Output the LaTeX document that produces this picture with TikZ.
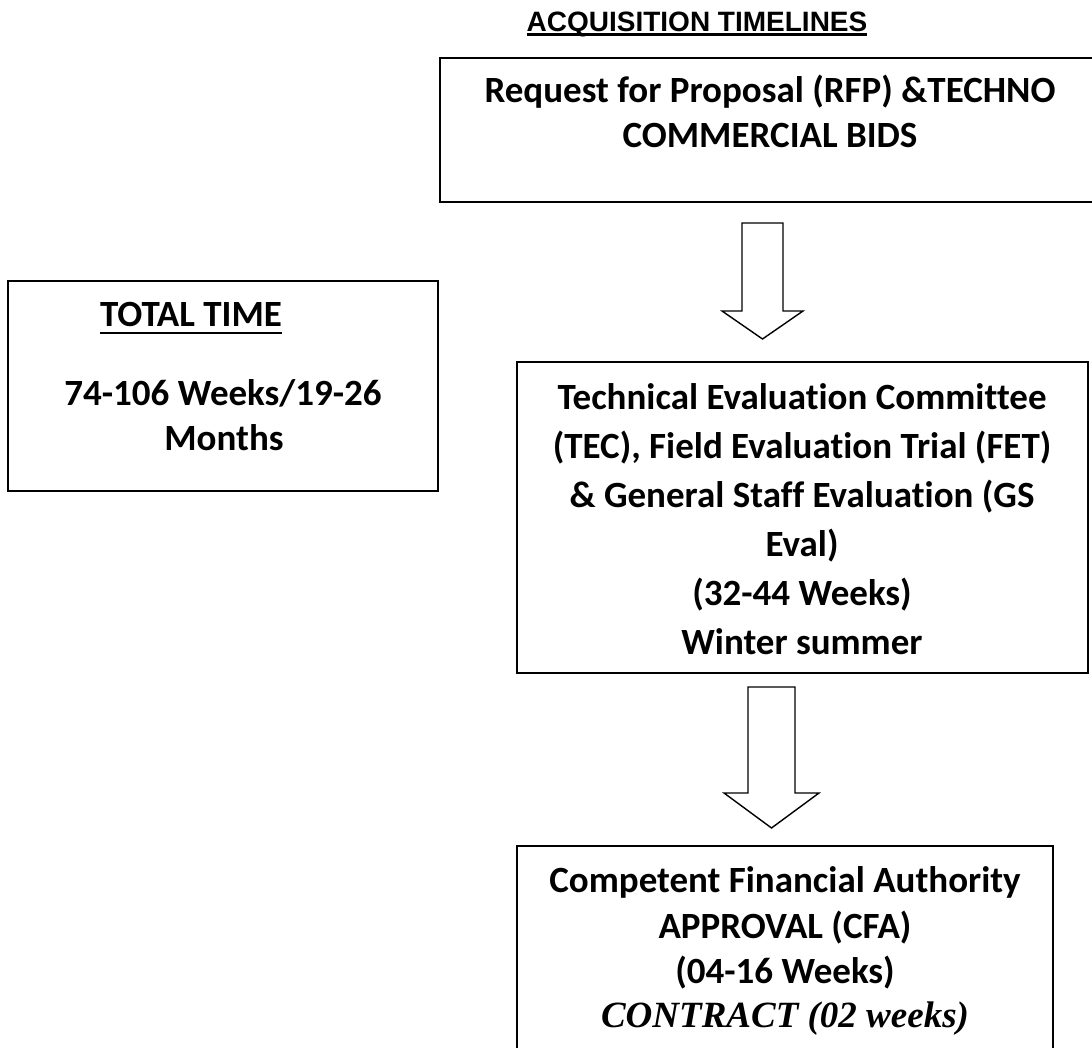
\documentclass[tikz,border=0pt]{standalone}
\usepackage{fontspec}
\setmainfont{Carlito}[Ligatures=NoCommon]
\newfontfamily\arialfont{Liberation Sans}
\newfontfamily\mathitfont{Liberation Serif}
\usetikzlibrary{positioning}

% underline with a set drop and thickness
\newcommand{\ulbar}[3]{\setbox0\hbox{#1}\rlap{\rule[-#2]{\wd0}{#3}}\box0}

\tikzset{
    box/.style={draw, line width=1.5pt, inner sep=0pt},
    body/.style={anchor=base, inner sep=0pt, font=\fontsize{37}{45}\selectfont\bfseries},
    hollow/.style={draw, line width=1.4pt, fill=white, line join=miter}
}

\begin{document}
\begin{tikzpicture}[x=1pt,y=-1pt]
    \useasboundingbox[fill=white] (0,0) rectangle (1092,1048);

    % Title
    \node[anchor=base, inner sep=0pt, font=\arialfont\fontsize{28}{30}\selectfont\bfseries] (title) at (697,32) {\ulbar{ACQUISITION TIMELINES}{4pt}{2.6pt}};

    % Boxes
    \node[box, minimum width=660, minimum height=144] (rfp) at (770,130) {};
    \node[box, minimum width=430, minimum height=210] (total) at (223,386) {};
    \node[box, minimum width=571, minimum height=311] (tec) at (802.5,517.5) {};
    \node[box, minimum width=536, minimum height=214] (cfa) at (785,953) {};

    % RFP text
    \node[body] (rfp1) at (770,103) {Request for Proposal (RFP) \&TECHNO};
    \node[body] (rfp2) at (770,148) {COMMERCIAL BIDS};

    % Total time text
    \node[body] (total1) at (191,327) {\ulbar{TOTAL TIME}{7pt}{2.4pt}};
    \node[body] (total2) at (223,405) {74-106 Weeks/19-26};
    \node[body] (total3) at (224,450) {Months};

    % TEC text
    \foreach \txt [count=\i] in {Technical Evaluation Committee, {(TEC), Field Evaluation Trial (FET)}, \& General Staff Evaluation (GS, Eval), (32-44 Weeks), Winter summer}
        \node[body] (tec\i) at (802,409+49*\i-49) {\txt};

    % CFA text
    \node[body] (cfa1) at (785,892) {Competent Financial Authority};
    \node[body] (cfa2) at (785,938) {APPROVAL (CFA)};
    \node[body] (cfa3) at (785,983) {(04-16 Weeks)};
    \node[body, font=\mathitfont\fontsize{37}{45}\selectfont\bfseries\itshape] (cfa4) at (785,1027) {CONTRACT (02 weeks)};

    % Block arrows
    \coordinate (a1) at (742,223);
    \draw[hollow] (a1) -- ++(41,0) -- ++(0,88) -- ++(20,0) -- ++(-40.5,28) -- ++(-40.5,-28) -- ++(20,0) -- cycle;
    \coordinate (a2) at (748,687);
    \draw[hollow] (a2) -- ++(47,0) -- ++(0,106) -- ++(24,0) -- ++(-47.5,35) -- ++(-47.5,-35) -- ++(24,0) -- cycle;
\end{tikzpicture}
\end{document}
